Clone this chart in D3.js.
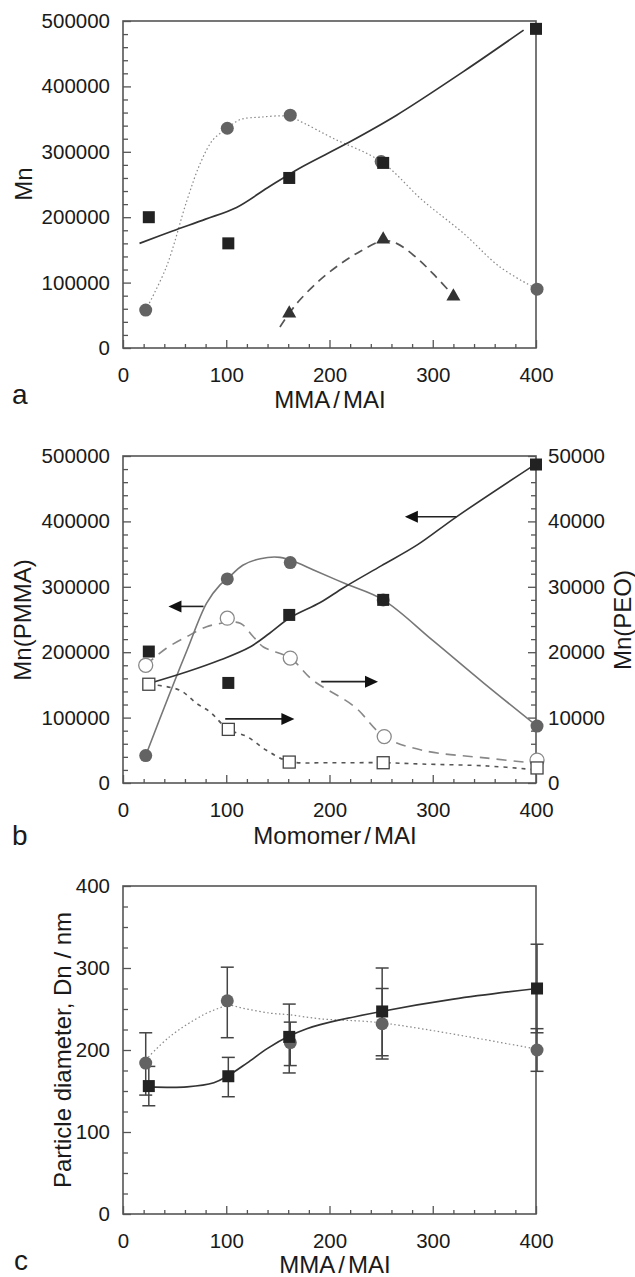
<!DOCTYPE html>
<html><head><meta charset="utf-8">
<script src="https://cdn.jsdelivr.net/npm/d3@7"></script>
<style>
body{margin:0;background:#fff;}
svg text{font-family:"Liberation Sans",Arial,Helvetica,sans-serif;fill:#1a1a1a;}
</style></head><body>
<svg id="chart" width="635" height="1277"></svg>
<script>
// ---------------- tick labels ----------------
const xMajorTicks = [0, 100, 200, 300, 400];
const mnMajorTicks = [0, 100000, 200000, 300000, 400000, 500000];
const peoMajorTicks = [0, 10000, 20000, 30000, 40000, 50000];
const dnMajorTicks = [0, 100, 200, 300, 400];

// ---------------- panel a ----------------
const aSqX = [25, 102, 161, 252, 400];
const aSqMn = [200000, 160000, 260000, 283000, 488000];
const aCirX = [22, 101, 162, 250, 401];
const aCirMn = [58000, 336000, 356000, 285000, 90000];
const aTriX = [161, 252, 320];
const aTriMn = [53000, 166000, 79000];
const aFitSolidX = [16, 48, 80, 110, 140, 171, 217, 265, 330, 388];
const aFitSolidY = [160000, 179000, 197000, 215000, 245000, 275000, 313000, 356000, 423000, 486000];
const aFitDotX = [22, 42, 62, 75, 87, 101, 113, 133, 160, 175, 203, 250, 290, 330, 365, 401];
const aFitDotY = [58000, 124000, 226000, 283000, 318000, 336000, 349000, 353000, 354000, 344000, 321000, 285000, 226000, 175000, 124000, 90000];
const aFitDashX = [152, 161, 171, 190, 210, 230, 252, 265, 285, 300, 320];
const aFitDashY = [32000, 53000, 73000, 103000, 128000, 148000, 164000, 160000, 137000, 114000, 80000];

// ---------------- panel b ----------------
const bSqX = [25, 102, 161, 252, 400];
const bSqPMMA = [201000, 153000, 257000, 280000, 487000];
const bCirX = [22, 101, 162, 252, 401];
const bCirPMMA = [42000, 312000, 337000, 280000, 87000];
const bOpenCirX = [22, 101, 162, 253, 401];
const bOpenCirPEO = [18000, 25200, 19100, 7100, 3500];
const bOpenSqX = [25, 102, 161, 252, 401];
const bOpenSqPEO = [15100, 8200, 3200, 3100, 2300];
const bFitBlackX = [25, 62, 94, 123, 142, 162, 191, 214, 250, 285, 323, 400];
const bFitBlackY = [152000, 170000, 188000, 208000, 229000, 253000, 276000, 299000, 332000, 364000, 407000, 488000];
const bFitGrayX = [22, 46, 62, 81, 94, 101, 116, 133, 152, 170, 184, 215, 252, 300, 350, 401];
const bFitGrayY = [42000, 140000, 203000, 275000, 303000, 312000, 333000, 343000, 345000, 336000, 326000, 305000, 280000, 218000, 152000, 87000];
const bFitDashX = [22, 42, 62, 81, 94, 101, 114, 126, 136, 162, 184, 224, 253, 290, 353, 401];
const bFitDashY = [18000, 20600, 22400, 23900, 24400, 24600, 24400, 22400, 20800, 19100, 15700, 11700, 7100, 5000, 3800, 3000];
const bFitShortX = [25, 55, 71, 84, 102, 120, 139, 161, 200, 252, 289, 353, 401];
const bFitShortY = [15100, 14200, 12200, 10900, 8200, 7100, 5000, 3300, 3100, 3100, 2900, 2600, 2000];
// arrows (tail -> tip), heights in PMMA units
const bArrowTailX = [323, 78, 192, 99];
const bArrowTipX = [273, 44, 247, 166];
const bArrowY = [407000, 270000, 155000, 98000];

// ---------------- panel c ----------------
const cSqX = [25, 102, 161, 251, 401];
const cSqDn = [156, 168, 216, 247, 275];
const cSqHi = [180, 191, 256, 300, 329];
const cSqLo = [132, 143, 172, 193, 221];
const cCirX = [22, 101, 162, 251, 401];
const cCirDn = [184, 260, 209, 232, 200];
const cCirHi = [221, 301, 234, 275, 226];
const cCirLo = [145, 215, 181, 189, 174];
const cFitSolidX = [25, 62, 88, 101, 120, 140, 161, 178, 191, 250, 320, 401];
const cFitSolidY = [155, 155, 160, 168, 184, 202, 217, 226, 231, 247, 262, 275];
const cFitDotX = [22, 45, 78, 97, 101, 116, 142, 161, 191, 251, 401];
const cFitDotY = [188, 216, 243, 253, 255, 251, 245, 243, 238, 233, 201];

// ---------------- drawing ----------------
const svg = d3.select("#chart");
const tickFont = 20.5, titleFont = 24;
const zip = (xs, ys) => xs.map((v, i) => [v, ys[i]]);

function makeX() { return d3.scaleLinear().domain([0, 400]).range([123, 536]); }

function drawAxes(x, y, yMajor, yStep, yMinorStep, fmtLeft, opts = {}) {
  const [yb, yt] = y.range();
  const [xl, xr] = x.range();
  const xMinor = d3.range(0, 401, 20).filter(v => v % 100 !== 0);
  const yMax = y.domain()[1];
  const yMinor = d3.range(0, yMax + 1e-9, yMinorStep).filter(v => Math.abs(v / yStep - Math.round(v / yStep)) > 1e-6);
  const style = g => { g.attr("font-size", tickFont).attr("font-family", null).attr("color", "#555");
    g.select(".domain").remove(); g.selectAll("line").attr("stroke-width", 1.3); };
  svg.append("g").attr("transform", `translate(0,${yb})`)
    .call(d3.axisBottom(x).tickValues(xMinor).tickSize(-4).tickFormat("")).call(style);
  svg.append("g").attr("transform", `translate(0,${yb})`)
    .call(d3.axisBottom(x).tickValues(xMajorTicks).tickSize(-8).tickPadding(19)).call(style);
  svg.append("g").attr("transform", `translate(${xl},0)`)
    .call(d3.axisLeft(y).tickValues(yMinor).tickSize(-5).tickFormat("")).call(style);
  svg.append("g").attr("transform", `translate(${xl},0)`)
    .call(d3.axisLeft(y).tickValues(yMajor).tickSize(-8).tickPadding(13).tickFormat(fmtLeft)).call(style);
  if (opts.right) {
    const yr = opts.right;
    const rMax = yr.domain()[1];
    const rStep = opts.rStep, rMinorStep = opts.rMinorStep;
    const rMinor = d3.range(0, rMax + 1e-9, rMinorStep).filter(v => Math.abs(v / rStep - Math.round(v / rStep)) > 1e-6);
    svg.append("g").attr("transform", `translate(${xr},0)`)
      .call(d3.axisRight(yr).tickValues(rMinor).tickSize(-5).tickFormat("")).call(style);
    svg.append("g").attr("transform", `translate(${xr},0)`)
      .call(d3.axisRight(yr).tickValues(opts.rMajor).tickSize(-8).tickPadding(12).tickFormat(d3.format("d"))).call(style);
  }
  svg.append("rect").attr("x", xl).attr("y", yt).attr("width", xr - xl).attr("height", yb - yt)
    .attr("fill", "none").attr("stroke", "#555").attr("stroke-width", 1.6);
}

function xTitle(txt, cx, by) {
  const parts = txt.split("/");
  const t = svg.append("text").attr("x", cx).attr("y", by).attr("text-anchor", "middle").attr("font-size", titleFont);
  t.append("tspan").text(parts[0]);
  t.append("tspan").attr("dx", 3).text("/");
  t.append("tspan").attr("dx", 3).text(parts[1]);
}
function yTitle(txt, bx, cy, size) {
  svg.append("text").attr("transform", `translate(${bx},${cy}) rotate(-90)`)
    .attr("text-anchor", "middle").attr("font-size", size || titleFont).text(txt);
}
function panelLetter(ch, x0, by) {
  svg.append("text").attr("x", x0).attr("y", by).attr("font-size", 28).text(ch);
}
function fit(x, y, xs, ys, stroke, width, dash) {
  const line = d3.line().x(d => x(d[0])).y(d => y(d[1])).curve(d3.curveCatmullRom.alpha(0.5));
  svg.append("path").attr("d", line(zip(xs, ys))).attr("fill", "none")
    .attr("stroke", stroke).attr("stroke-width", width).attr("stroke-dasharray", dash || null);
}
function squares(x, y, xs, ys, fill, stroke, size) {
  const s = size || 12;
  svg.append("g").selectAll("rect").data(zip(xs, ys)).join("rect")
    .attr("x", d => x(d[0]) - s / 2).attr("y", d => y(d[1]) - s / 2).attr("width", s).attr("height", s)
    .attr("fill", fill).attr("stroke", stroke || "none").attr("stroke-width", 1.3);
}
function circles(x, y, xs, ys, fill, stroke, r) {
  svg.append("g").selectAll("circle").data(zip(xs, ys)).join("circle")
    .attr("cx", d => x(d[0])).attr("cy", d => y(d[1])).attr("r", r || 6.5)
    .attr("fill", fill).attr("stroke", stroke || "none").attr("stroke-width", 1.3);
}
function triangles(x, y, xs, ys, fill) {
  const sym = d3.symbol(d3.symbolTriangle).size(85);
  svg.append("g").selectAll("path").data(zip(xs, ys)).join("path")
    .attr("transform", d => `translate(${x(d[0])},${y(d[1])})`).attr("d", sym()).attr("fill", fill);
}
function errorBars(x, y, xs, hi, lo) {
  const g = svg.append("g").attr("stroke", "#444").attr("stroke-width", 1.5);
  xs.forEach((v, i) => {
    const px = x(v);
    g.append("line").attr("x1", px).attr("x2", px).attr("y1", y(hi[i])).attr("y2", y(lo[i]));
    [hi[i], lo[i]].forEach(e => g.append("line").attr("x1", px - 6.5).attr("x2", px + 6.5).attr("y1", y(e)).attr("y2", y(e)));
  });
}
function arrows(x, y, tails, tips, ys) {
  tails.forEach((t, i) => {
    const x1 = x(t), x2 = x(tips[i]), py = y(ys[i]);
    const dir = Math.sign(x2 - x1);
    svg.append("line").attr("x1", x1).attr("x2", x2 - dir * 10).attr("y1", py).attr("y2", py)
      .attr("stroke", "#222").attr("stroke-width", 1.6);
    svg.append("path").attr("d", `M${x2},${py} L${x2 - dir * 13},${py - 6} L${x2 - dir * 13},${py + 6} Z`).attr("fill", "#111");
  });
}

// ----- Panel a -----
{
  const x = makeX();
  const y = d3.scaleLinear().domain([0, 500000]).range([348, 21]);
  drawAxes(x, y, mnMajorTicks, 100000, 20000, d3.format("d"));
  fit(x, y, aFitDotX, aFitDotY, "#888", 1.2, "1.5,2.5");
  fit(x, y, aFitSolidX, aFitSolidY, "#333", 1.7);
  fit(x, y, aFitDashX, aFitDashY, "#555", 1.7, "9,6");
  circles(x, y, aCirX, aCirMn, "#636363");
  triangles(x, y, aTriX, aTriMn, "#333");
  squares(x, y, aSqX, aSqMn, "#222");
  xTitle("MMA/MAI", 330, 408);
  yTitle("Mn", 32, 184);
  panelLetter("a", 12, 404);
}

// ----- Panel b -----
{
  const x = makeX();
  const y = d3.scaleLinear().domain([0, 500000]).range([783, 456]);
  const yr = d3.scaleLinear().domain([0, 50000]).range([783, 456]);
  drawAxes(x, y, mnMajorTicks, 100000, 20000, d3.format("d"),
    { right: yr, rMajor: peoMajorTicks, rStep: 10000, rMinorStep: 2000 });
  fit(x, yr, bFitShortX, bFitShortY, "#555", 1.6, "4,5");
  fit(x, yr, bFitDashX, bFitDashY, "#888", 1.6, "10,7");
  fit(x, y, bFitGrayX, bFitGrayY, "#777", 1.6);
  fit(x, y, bFitBlackX, bFitBlackY, "#333", 1.6);
  circles(x, y, bCirX, bCirPMMA, "#636363");
  squares(x, y, bSqX, bSqPMMA, "#222");
  circles(x, yr, bOpenCirX, bOpenCirPEO, "#fff", "#888", 7);
  squares(x, yr, bOpenSqX, bOpenSqPEO, "#fff", "#444", 12);
  arrows(x, y, bArrowTailX, bArrowTipX, bArrowY);
  xTitle("Momomer/MAI", 335, 844);
  yTitle("Mn(PMMA)", 31, 620);
  yTitle("Mn(PEO)", 631, 620);
  panelLetter("b", 12, 845);
}

// ----- Panel c -----
{
  const x = makeX();
  const y = d3.scaleLinear().domain([0, 400]).range([1214, 886]);
  drawAxes(x, y, dnMajorTicks, 100, 25, d3.format("d"));
  fit(x, y, cFitDotX, cFitDotY, "#888", 1.2, "1.5,2.5");
  fit(x, y, cFitSolidX, cFitSolidY, "#333", 1.7);
  errorBars(x, y, cCirX, cCirHi, cCirLo);
  errorBars(x, y, cSqX, cSqHi, cSqLo);
  circles(x, y, cCirX, cCirDn, "#636363");
  squares(x, y, cSqX, cSqDn, "#222");
  xTitle("MMA/MAI", 335, 1273);
  yTitle("Particle diameter, Dn / nm", 71, 1050);
  panelLetter("c", 14, 1270);
}
</script>
</body></html>
